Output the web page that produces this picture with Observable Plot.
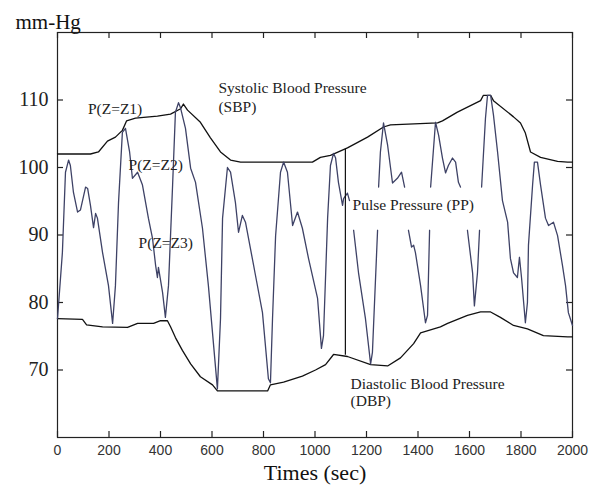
<!DOCTYPE html>
<html>
<head>
<meta charset="utf-8">
<script src="https://cdn.jsdelivr.net/npm/d3@7"></script>
<script src="https://cdn.jsdelivr.net/npm/@observablehq/plot@0.6"></script>
<style>
  html, body { margin: 0; padding: 0; background: #fff; }
  #chart svg { display: block; }
</style>
</head>
<body>
<div id="chart"></div>
<script>
// Time axis values (sec) and pressure values (mm-Hg)
const xTicks = [0, 200, 400, 600, 800, 1000, 1200, 1400, 1600, 1800, 2000];
const yTicks = [70, 80, 90, 100, 110];

// Systolic envelope
const sbpT = [0,128,159,194,225,252,268,303,388,439,478,489,505,555,594,633,672,711,990,1021,1060,1126,1204,1266,1293,1476,1495,1553,1643,1654,1682,1693,1771,1798,1817,1837,1876,1942,1981,2000];
const sbpP = [102.0,102.0,102.3,103.9,104.5,105.5,106.9,107.3,107.6,107.9,108.7,109.4,108.5,106.7,104.4,102.3,101.1,100.8,100.8,101.5,101.8,102.9,104.5,106.0,106.3,106.6,106.9,108.2,109.9,110.7,110.7,109.9,107.5,106.6,105.1,102.3,101.5,100.9,100.8,100.8];

// Diastolic envelope
const dbpT = [0,97,113,175,272,311,373,400,427,439,458,485,517,555,602,621,816,827,878,951,1002,1041,1072,1126,1216,1282,1332,1383,1410,1487,1515,1592,1643,1682,1720,1771,1825,1887,1981,2000];
const dbpP = [77.6,77.5,76.7,76.4,76.3,76.9,76.9,77.3,77.3,76.4,74.8,72.9,70.9,69.0,67.8,66.9,66.9,67.8,68.2,69.1,70.0,70.8,72.3,72.0,70.8,70.6,71.8,73.9,75.5,76.4,76.9,78.1,78.6,78.6,77.8,76.6,76.1,75.1,74.9,74.9];

// Pressure waveform (null = hidden behind the label box)
const waveT = [0,19,31,43,50,62,78,89,109,117,128,140,148,155,175,198,214,225,237,252,264,280,291,311,330,353,369,381,388,392,408,419,431,447,458,470,478,497,517,536,563,586,621,633,641,660,672,691,703,718,730,769,796,819,827,835,847,866,878,893,913,932,951,975,1010,1025,1033,1049,1060,1072,1080,1091,1107,1111,1126,1134,
  1142,
  1150,1169,1196,1216,1223,1243,
  1245,
  1247,1254,1266,1282,1301,1320,1336,1348,
  1355,
  1363,1375,1383,1390,1410,1429,1437,1445,
  1447,
  1449,1468,1480,1495,1507,1518,1534,1546,1557,1565,
  1580,
  1592,1612,1619,1631,1639,
  1643,
  1647,1662,1670,1682,1693,1709,1728,1748,1759,1771,1786,1794,1802,1817,1825,1829,1845,1852,1864,1876,1895,1907,1926,1942,1961,1973,1984,2000];
const waveP = [77.6,87.4,99.3,101.1,100.3,96.3,93.4,93.7,97.1,96.9,94.4,91.1,93.2,92.5,87.4,82.5,76.9,82.5,94.8,105.2,105.8,102.3,98.4,99.3,97.4,92.5,89.5,85.5,83.7,85.2,81.5,77.8,82.5,97.4,108.2,109.6,108.8,105.8,99.9,97.8,91.0,82.5,67.2,77.6,92.5,100.0,99.3,94.8,90.4,92.9,91.9,84.0,78.5,68.7,68.1,77.6,89.9,99.3,100.8,99.3,91.4,93.4,91.0,86.5,80.6,73.2,75.1,92.5,100.3,102.1,101.4,97.8,94.4,95.4,96.2,95.1,
  null,
  90.7,84.4,77.6,70.9,72.6,90.7,
  null,
  97.1,102.3,106.6,103.3,97.7,98.4,99.3,97.1,
  null,
  90.7,88.2,88.5,87.4,82.5,77.0,78.1,90.7,
  null,
  97.1,106.7,104.8,101.4,99.2,100.3,101.4,100.8,97.8,97.1,
  null,
  90.7,84.4,79.5,84.4,90.7,
  null,
  97.1,107.3,110.7,110.7,107.8,102.3,95.1,91.9,86.5,84.4,83.7,86.7,83.7,77.0,80.0,88.5,97.4,100.8,100.8,97.4,92.5,91.4,91.9,89.9,85.5,82.5,78.5,76.6];

// Pulse pressure rule
const ppT = [1118];
const ppLow = [72.2];
const ppHigh = [102.7];

// Annotation texts and their anchor values
const noteText = ["P(Z=Z1)", "P(Z=Z2)", "P(Z=Z3)", "Systolic Blood Pressure", "(SBP)", "Pulse Pressure (PP)", "Diastolic Blood Pressure", "(DBP)"];
const noteT = [118, 276, 315, 625, 625, 1146, 1138, 1138];
const noteP = [108.6, 100.3, 88.8, 111.8, 109.0, 94.4, 67.9, 65.4];

const wave = waveT.map((t, i) => ({t, p: waveP[i]}));
const sbp = sbpT.map((t, i) => ({t, p: sbpP[i]}));
const dbp = dbpT.map((t, i) => ({t, p: dbpP[i]}));
const pp = ppT.map((t, i) => ({t, lo: ppLow[i], hi: ppHigh[i]}));
const notes = noteText.map((s, i) => ({s, t: noteT[i], p: noteP[i]}));

const serif = "'Liberation Serif', 'Times New Roman', serif";
const plain = d => String(d);

const W = 603, H = 491, ML = 57, MR = 31, MT = 32, MB = 54, TICK = 6;
const innerW = W - ML - MR, innerH = H - MT - MB;

const chart = Plot.plot({
  width: W,
  height: H,
  marginLeft: ML,
  marginRight: MR,
  marginTop: MT,
  marginBottom: MB,
  style: {background: "#fff", color: "#222", fontFamily: serif},
  x: {domain: [0, 2000], axis: null},
  y: {domain: [60, 120], axis: null},
  marks: [
    Plot.frame({stroke: "#222", strokeWidth: 1.2}),
    // inward ticks on all four sides
    Plot.tickX(xTicks, {x: d => d, insetTop: innerH - TICK, stroke: "#222", strokeWidth: 1.2}),
    Plot.tickX(xTicks, {x: d => d, insetBottom: innerH - TICK, stroke: "#222", strokeWidth: 1.2}),
    Plot.tickY(yTicks, {y: d => d, insetRight: innerW - TICK, stroke: "#222", strokeWidth: 1.2}),
    Plot.tickY(yTicks, {y: d => d, insetLeft: innerW - TICK, stroke: "#222", strokeWidth: 1.2}),
    // tick labels
    Plot.axisX(xTicks, {anchor: "bottom", tickSize: 0, tickPadding: 8, label: null, tickFormat: plain,
      fontSize: 14, fontFamily: "'Liberation Sans', Arial, sans-serif", fill: "#333"}),
    Plot.axisY(yTicks, {anchor: "left", tickSize: 0, tickPadding: 9, label: null, tickFormat: plain,
      fontSize: 20, fontFamily: serif, fill: "#222"}),
    // envelopes
    Plot.line(sbp, {x: "t", y: "p", stroke: "#111", strokeWidth: 1.3}),
    Plot.line(dbp, {x: "t", y: "p", stroke: "#111", strokeWidth: 1.3}),
    // waveform
    Plot.line(wave, {x: "t", y: "p", stroke: "#3e4266", strokeWidth: 1.3}),
    // pulse pressure rule
    Plot.ruleX(pp, {x: "t", y1: "lo", y2: "hi", stroke: "#111", strokeWidth: 1.2}),
    // annotations
    Plot.text(notes, {x: "t", y: "p", text: "s", textAnchor: "start", fontSize: 15.5, fontFamily: serif, fill: "#222"}),
    // axis titles
    Plot.text(["mm-Hg"], {frameAnchor: "top-left", dx: -42, dy: -18, textAnchor: "start", fontSize: 21, fontFamily: serif, fill: "#111"}),
    Plot.text(["Times (sec)"], {frameAnchor: "bottom", dy: 42, fontSize: 22, fontFamily: serif, fill: "#111"})
  ]
});
document.getElementById("chart").appendChild(chart);
</script>
</body>
</html>
